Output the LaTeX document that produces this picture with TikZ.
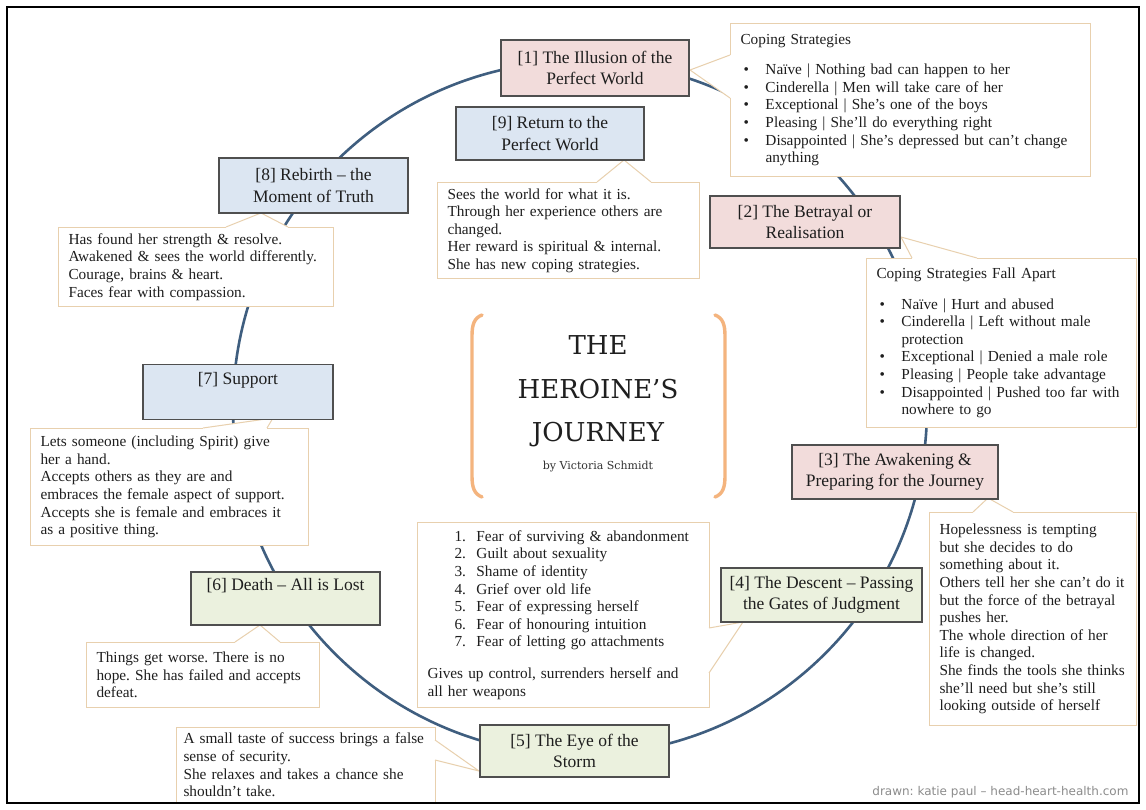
\documentclass[tikz,border=0pt]{standalone}
\usepackage{fontspec}
\setmainfont{Liberation Serif}
\newfontfamily\titlefont{DejaVu Serif}
\newfontfamily\creditfont{DejaVu Sans}
\definecolor{pinkf}{HTML}{F2DCDB}
\definecolor{bluef}{HTML}{DCE6F2}
\definecolor{greenf}{HTML}{EBF1DE}
\definecolor{stageline}{HTML}{4F4F4F}
\definecolor{notecol}{HTML}{E8D0AE}
\definecolor{ringcol}{HTML}{3F5E7F}
\definecolor{brackcol}{HTML}{F4B47E}
\definecolor{txt}{HTML}{1E1E1E}
\newcommand\bul{\hspace*{3pt}\makebox[22pt][l]{\textbullet}}
\newcommand\bulcont{\hspace*{25pt}}
\newcommand\num[1]{\hspace*{27pt}\makebox[22pt][l]{#1}}
\newcommand\mycallout[3]{%
  \fill[white] #1 -- #2 -- #3 -- cycle;
  \draw[white,line width=1.8pt] #1 -- #3;
  \draw[notecol,line width=1pt,line join=miter] #1 -- #2 -- #3;}
\begin{document}
\frenchspacing
\begin{tikzpicture}[x=1pt,y=-1pt,
  stage/.style={draw=stageline,line width=1.3pt,align=center,inner sep=0pt,
    font=\fontsize{17.5}{21.5}\selectfont,text=txt},
  note/.style={draw=notecol,line width=1pt,fill=white,align=left,
    inner xsep=10pt,inner ysep=0pt,anchor=north west,
    font=\frenchspacing\fontsize{15.3}{17.6}\selectfont,text=txt},
  ring/.style={draw=ringcol,line width=2.6pt},
  brack/.style={draw=brackcol,line width=3.4pt,line cap=round},
  titlef/.style={font=\titlefont\fontsize{26}{30}\selectfont,text=black!88,anchor=base},
  ]
\useasboundingbox (0,0) rectangle (1146,810);
\fill[white] (0,0) rectangle (1146,810);

% ring
\coordinate (ctr) at (580,408);
\draw[ring] (ctr) circle[radius=347pt];

% notes
\node[note,text width=340pt,minimum height=153pt] (n1) at (730,23) {%
Coping Strategies\\[13pt]
\bul Naïve | Nothing bad can happen to her\\
\bul Cinderella | Men will take care of her\\
\bul Exceptional | She’s one of the boys\\
\bul Pleasing | She’ll do everything right\\
\bul Disappointed | She’s depressed but can’t change\\
\bulcont anything};

\node[note,text width=242pt,minimum height=96pt] (n9) at (437,182) {%
Sees the world for what it is.\\
Through her experience others are\\
changed.\\
Her reward is spiritual \& internal.\\
She has new coping strategies.};

\node[note,text width=255pt,minimum height=79pt] (n8) at (58,227) {%
Has found her strength \& resolve.\\
Awakened \& sees the world differently.\\
Courage, brains \& heart.\\
Faces fear with compassion.};

\node[note,text width=250pt,minimum height=169pt] (n2) at (866,258) {%
Coping Strategies Fall Apart\\[13pt]
\bul Naïve | Hurt and abused\\
\bul Cinderella | Left without male\\
\bulcont protection\\
\bul Exceptional | Denied a male role\\
\bul Pleasing | People take advantage\\
\bul Disappointed | Pushed too far with\\
\bulcont nowhere to go};

\node[note,text width=258pt,minimum height=117pt] (n7) at (30,428) {%
Lets someone (including Spirit) give\\
her a hand.\\
Accepts others as they are and\\
embraces the female aspect of support.\\
Accepts she is female and embraces it\\
as a positive thing.};

\node[note,text width=213pt,minimum height=65pt] (n6) at (86,642) {%
Things get worse. There is no\\
hope. She has failed and accepts\\
defeat.};

\node[note,text width=245pt,inner xsep=7pt,minimum height=75pt] (n5) at (176,727) {%
A small taste of success brings a false\\
sense of security.\\
She relaxes and takes a chance she\\
shouldn’t take.};

\node[note,text width=272pt,minimum height=185pt] (n4) at (417,522) {%
\num{1.}Fear of surviving \& abandonment\\
\num{2.}Guilt about sexuality\\
\num{3.}Shame of identity\\
\num{4.}Grief over old life\\
\num{5.}Fear of expressing herself\\
\num{6.}Fear of honouring intuition\\
\num{7.}Fear of letting go attachments\\[14pt]
Gives up control, surrenders herself and\\
all her weapons};

\node[note,text width=187pt,minimum height=213pt] (n3) at (929,512) {%
Hopelessness is tempting\\
but she decides to do\\
something about it.\\
Others tell her she can’t do it\\
but the force of the betrayal\\
pushes her.\\
The whole direction of her\\
life is changed.\\
She finds the tools she thinks\\
she’ll need but she’s still\\
looking outside of herself};

% callout pointers
\coordinate (p1a) at (730,55);  \coordinate (p1t) at (690,70);  \coordinate (p1b) at (730,98);
\coordinate (p9a) at (597,182); \coordinate (p9t) at (624,160); \coordinate (p9b) at (651,182);
\coordinate (p8a) at (226,227); \coordinate (p8t) at (261,213); \coordinate (p8b) at (288,227);
\coordinate (p2a) at (912,258); \coordinate (p2t) at (901,237); \coordinate (p2b) at (977,258);
\coordinate (p7a) at (203,428); \coordinate (p7t) at (273,418); \coordinate (p7b) at (267,428);
\coordinate (p6a) at (235,642); \coordinate (p6t) at (260,625); \coordinate (p6b) at (280,642);
\coordinate (p5a) at (435,740); \coordinate (p5t) at (479,771); \coordinate (p5b) at (435,760);
\coordinate (p4a) at (709,628); \coordinate (p4t) at (743,622); \coordinate (p4b) at (709,673);
\coordinate (p3a) at (973,512); \coordinate (p3t) at (988,498); \coordinate (p3b) at (1013,512);
\mycallout{(p1a)}{(p1t)}{(p1b)}
\mycallout{(p9a)}{(p9t)}{(p9b)}
\mycallout{(p8a)}{(p8t)}{(p8b)}
\mycallout{(p2a)}{(p2t)}{(p2b)}
\mycallout{(p7a)}{(p7t)}{(p7b)}
\mycallout{(p6a)}{(p6t)}{(p6b)}
\mycallout{(p5a)}{(p5t)}{(p5b)}
\mycallout{(p4a)}{(p4t)}{(p4b)}
\mycallout{(p3a)}{(p3t)}{(p3b)}

% stage boxes
\node[stage,fill=pinkf,minimum width=188pt,minimum height=56pt] (s1) at (595,68) {[1] The Illusion of the\\Perfect World};
\node[stage,fill=pinkf,minimum width=190pt,minimum height=52pt] (s2) at (805,222) {[2] The Betrayal or\\Realisation};
\node[stage,fill=pinkf,minimum width=206pt,minimum height=54pt] (s3) at (895,472) {[3] The Awakening \&\\Preparing for the Journey};
\node[stage,fill=greenf,minimum width=201pt,minimum height=54pt] (s4) at (821.5,595) {[4] The Descent – Passing\\the Gates of Judgment};
\node[stage,fill=greenf,minimum width=189pt,minimum height=52pt] (s5) at (574.5,751) {[5] The Eye of the\\Storm};
\node[stage,fill=greenf,minimum width=189pt,minimum height=53pt] (s6) at (285.5,598.5) {[6] Death – All is Lost\\\strut};
\node[stage,fill=bluef,minimum width=190pt,minimum height=55pt] (s7) at (238,392) {[7] Support\\\strut};
\node[stage,fill=bluef,minimum width=189pt,minimum height=55pt] (s8) at (313.5,185.5) {[8] Rebirth – the\\Moment of Truth};
\node[stage,fill=bluef,minimum width=188pt,minimum height=53pt] (s9) at (550,133.5) {[9] Return to the\\Perfect World};

% title
\draw[brack] (482,315) .. controls (474,318) and (472,325) .. (472,336) -- (472,476) .. controls (472,487) and (474,494) .. (482,497);
\draw[brack] (715,315) .. controls (723,318) and (725,325) .. (725,336) -- (725,476) .. controls (725,487) and (723,494) .. (715,497);
\node[titlef] (tt1) at (598,355) {THE};
\node[titlef] (tt2) at (598,398) {HEROINE’S};
\node[titlef] (tt3) at (598,441) {JOURNEY};
\node[anchor=base,font=\titlefont\fontsize{11}{13}\selectfont,text=black!80] (tby) at (598,469) {by Victoria Schmidt};

% credit
\node[anchor=base east,font=\creditfont\fontsize{12}{14}\selectfont,text=black!45] (cred) at (1132,795) {drawn: katie paul – head-heart-health.com};

% frame
\draw[black,line width=2pt] (7,7) rectangle (1139,803);
\end{tikzpicture}
\end{document}
